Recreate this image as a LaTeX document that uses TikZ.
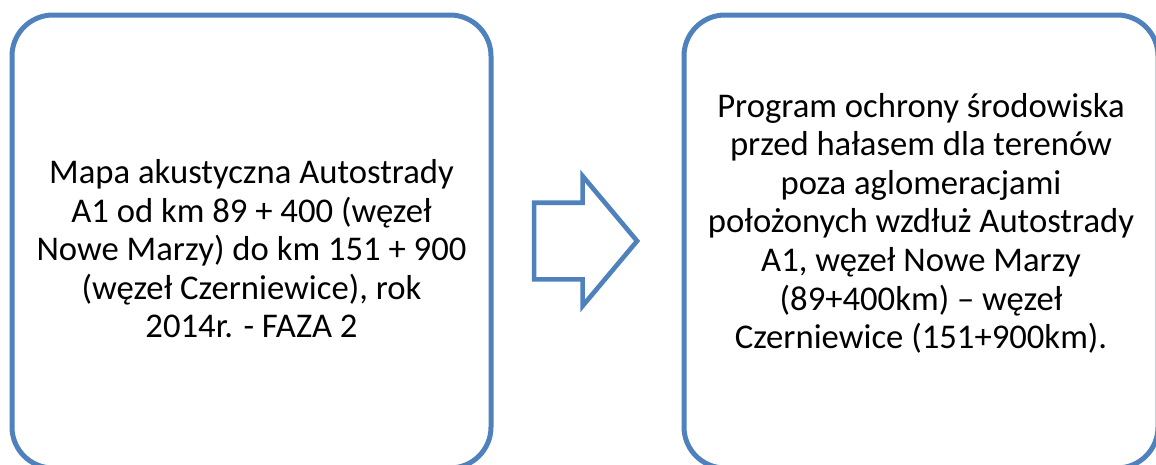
\documentclass[tikz,border=0pt]{standalone}
\usepackage{fontspec}
\setmainfont{Carlito}
\usetikzlibrary{shapes.arrows}
\definecolor{officeblue}{RGB}{79,129,189}
\begin{document}
\begin{tikzpicture}[
      x=0.75pt, y=-0.75pt,
      every node/.style={font=\fontsize{26pt}{28.9pt}\selectfont},
      panel/.style={draw=officeblue, line width=3.75pt, rounded corners=30.75pt, minimum height=339.75pt, align=center, inner sep=0pt},
      blockarrow/.style={draw=officeblue, line width=3.5pt, single arrow, single arrow tip angle=100, single arrow head extend=19.9pt, minimum height=77.25pt, inner xsep=0pt, inner ysep=27pt}
    ]
      \useasboundingbox (0,0) rectangle (1156,464);
      \node[panel, minimum width=359.25pt] (mapa) at (251.5,241.5)
        {\\[0pt] Mapa akustyczna Autostrady\\ A1 od km 89 + 400 (węzeł\\ Nowe Marzy) do km 151 + 900\\ (węzeł Czerniewice), rok\\ 2014r. - FAZA 2};
      \node[panel, minimum width=355.5pt] (program) at (921,241.5)
        {Program ochrony środowiska\\ przed hałasem dla terenów\\ poza aglomeracjami\\ położonych wzdłuż Autostrady\\ A1, węzeł Nowe Marzy\\ (89+400km) – węzeł\\ Czerniewice (151+900km).\\[2pt] ~};
      \node[blockarrow] (arrow) at (569.5,241) {};
    \end{tikzpicture}
\end{document}
